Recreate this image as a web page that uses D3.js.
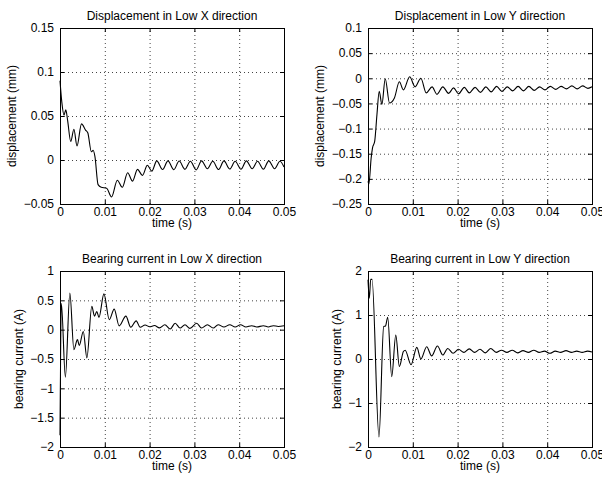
<!DOCTYPE html>
<html>
<head>
<meta charset="utf-8">
<script src="https://cdn.jsdelivr.net/npm/d3@7"></script>
<style>
body { margin: 0; background: #fff; }
svg text { font-family: "Liberation Sans", Arial, Helvetica, sans-serif; font-size: 12px; fill: #000; }
</style>
</head>
<body>
<svg width="602" height="480"></svg>
<script>
'use strict';

// time axis, shared by all four plots
const timeTicks = [0, 0.01, 0.02, 0.03, 0.04, 0.05];
const timeTickLabels = ["0", "0.01", "0.02", "0.03", "0.04", "0.05"];

// Displacement in Low X direction (mm), peaks and troughs
const dispXTime = [0, .0004, .0009, .0013, .0017, .0024, .0031, .0038, .0048, .0057, .0062, .0070, .0074, .0078,
    .0085, .0092, .0104, .0115, .0128, .0139, .0151, .0162, .0173, .0184, .0195, .0205, .0216, .0229,
    .0241, .0254, .0266, .0279, .0291, .0304, .0316, .0329, .0341, .0354, .0366, .0379, .0391, .0404,
    .0416, .0429, .0441, .0454, .0466, .0479, .0491, .0500];
const dispXValues = [.090, .066, .051, .057, .045, .021, .035, .016, .041, .034, .031, .0094, .011, .0038,
    -.028, -.031, -.032, -.042, -.023, -.031, -.0145, -.024, -.0106, -.0175, -.006, -.0126, -.001, -.0108,
    -.001, -.0110, -.0012, -.0105, -.0015, -.0112, -.001, -.0100, -.0015, -.0108, -.001, -.0102, -.0015, -.0105,
    -.001, -.0100, -.0015, -.0105, -.001, -.0100, -.0015, -.008];
const dispXTicks = [-0.05, 0, 0.05, 0.1, 0.15];
const dispXTickLabels = ["\u22120.05", "0", "0.05", "0.1", "0.15"];

// Displacement in Low Y direction (mm)
const dispYTime = [0, .0002, .0007, .0010, .0015, .0020, .0025, .0031, .00385, .0048, .0059, .0070, .0079, .0093,
    .0105, .0118, .0130, .0143, .0154, .0167, .0180, .0191, .0202, .0215, .0226,
    .0239, .0251, .0263, .0275, .0287, .0299, .0311, .0323, .0335, .0347, .0359, .0371, .0383, .0395,
    .0407, .0419, .0431, .0443, .0455, .0467, .0479, .0491, .0500];
const dispYValues = [-.205, -.21, -.159, -.139, -.125, -.072, -.026, -.052, -.001, -.049, -.039, -.007, -.023, .003,
    -.017, 0, -.029, -.017, -.032, -.017, -.030, -.019, -.031, -.018, -.029,
    -.018, -.028, -.017, -.027, -.016, -.026, -.017, -.025, -.016, -.025, -.016, -.024, -.017, -.023,
    -.016, -.022, -.016, -.021, -.015, -.021, -.015, -.020, -.017];
const dispYTicks = [-0.25, -0.2, -0.15, -0.1, -0.05, 0, 0.05, 0.1];
const dispYTickLabels = ["\u22120.25", "\u22120.2", "\u22120.15", "\u22120.1", "\u22120.05", "0", "0.05", "0.1"];

// Bearing current in Low X direction (A)
const curXTime = [0, .0003, .0012, .0022, .0031, .0039, .0043, .0052, .0060, .0071, .0077, .0082, .0087, .0098,
    .0110, .0121, .0132, .0147, .0158, .0170, .0179, .0190, .0200,
    .0211, .0222, .0234, .0246, .0257, .0268, .0279, .0290, .0305, .0316, .0329, .0342, .0353, .0366,
    .0379, .0391, .0403, .0415, .0428, .0439, .0454, .0465, .0476, .0487, .0500];
const curXValues = [-1.8, .45, -.81, .625, -.34, -.17, -.27, -.03, -.48, .40, .23, .31, .21, .61,
    .17, .35, .065, .23, .04, .15, .04, .08, .05,
    .07, .03, .085, .011, .11, .028, .085, .022, .11, .028, .085, .028, .085, .045,
    .085, .045, .085, .045, .068, .045, .068, .045, .068, .055, .068];
const curXTicks = [-2, -1.5, -1, -0.5, 0, 0.5, 1];
const curXTickLabels = ["\u22122", "\u22121.5", "\u22121", "\u22120.5", "0", "0.5", "1"];

// Bearing current in Low Y direction (A)
const curYTime = [0, .0003, .0006, .0009, .00245, .0035, .0039, .0044, .0053, .0062, .0070, .0079, .0083, .0096,
    .0109, .0118, .0131, .0142, .0155, .0167, .0178, .0190, .0202,
    .0214, .0226, .0238, .0250, .0262, .0274, .0286, .0298, .0310, .0322, .0334, .0346, .0358, .0370,
    .0382, .0394, .0406, .0418, .0430, .0442, .0454, .0466, .0478, .0490, .0500];
const curYValues = [1.80, 1.38, 1.81, 1.81, -1.77, .74, .75, .95, -.40, .545, -.17, .17, .20, -.13,
    .265, 0, .28, .07, .295, .09, .24, .13, .22,
    .15, .23, .15, .22, .14, .24, .15, .20, .15, .20, .14, .19, .15, .20,
    .15, .18, .13, .18, .15, .19, .15, .18, .15, .18, .16];
const curYTicks = [-2, -1, 0, 1, 2];
const curYTickLabels = ["\u22122", "\u22121", "0", "1", "2"];

const svg = d3.select("svg");
const plotW = 224, plotH = 176;

const panels = [
    { left: 60, top: 28, title: "Displacement in Low X direction", ylabel: "displacement (mm)",
      time: dispXTime, values: dispXValues, ticks: dispXTicks, labels: dispXTickLabels },
    { left: 368, top: 28, title: "Displacement in Low Y direction", ylabel: "displacement (mm)",
      time: dispYTime, values: dispYValues, ticks: dispYTicks, labels: dispYTickLabels },
    { left: 60, top: 271, title: "Bearing current in Low X direction", ylabel: "bearing current (A)",
      time: curXTime, values: curXValues, ticks: curXTicks, labels: curXTickLabels },
    { left: 368, top: 271, title: "Bearing current in Low Y direction", ylabel: "bearing current (A)",
      time: curYTime, values: curYValues, ticks: curYTicks, labels: curYTickLabels }
];

panels.forEach(drawPanel);

function drawPanel(p) {
    const x = d3.scaleLinear().domain([0, 0.05]).range([0, plotW]);
    const y = d3.scaleLinear().domain(d3.extent(p.ticks)).range([plotH, 0]);

    const g = svg.append("g").attr("transform", `translate(${p.left},${p.top})`);

    // dotted grid
    const grid = g.append("g").attr("class", "grid");
    grid.append("g")
        .attr("transform", `translate(0,${plotH})`)
        .call(d3.axisBottom(x).tickValues(timeTicks.slice(1, -1)).tickSize(-plotH).tickFormat(""));
    grid.append("g")
        .call(d3.axisLeft(y).tickValues(p.ticks.slice(1, -1)).tickSize(-plotW).tickFormat(""));
    grid.selectAll(".domain").remove();
    grid.selectAll(".tick line")
        .attr("stroke", "#444")
        .attr("stroke-dasharray", "1,3");

    // data line
    const line = d3.line()
        .x((d, i) => x(p.time[i]))
        .y(d => y(d))
        .curve(d3.curveMonotoneX);
    g.append("path")
        .datum(p.values)
        .attr("fill", "none")
        .attr("stroke", "#000")
        .attr("stroke-width", 1.1)
        .attr("d", line);

    // axes with inward ticks on all four sides
    const fmtX = d => timeTickLabels[timeTicks.indexOf(d)];
    const fmtY = d => p.labels[p.ticks.indexOf(d)];
    const axes = [
        g.append("g").attr("transform", `translate(0,${plotH})`)
            .call(d3.axisBottom(x).tickValues(timeTicks).tickSize(-4).tickPadding(3).tickFormat(fmtX)),
        g.append("g").call(d3.axisTop(x).tickValues(timeTicks).tickSize(-4).tickFormat("")),
        g.append("g").call(d3.axisLeft(y).tickValues(p.ticks).tickSize(-4).tickPadding(6).tickFormat(fmtY)),
        g.append("g").attr("transform", `translate(${plotW},0)`)
            .call(d3.axisRight(y).tickValues(p.ticks).tickSize(-4).tickFormat(""))
    ];
    axes.forEach(a => {
        a.attr("font-size", null).attr("font-family", null);
        a.selectAll(".domain").remove();
        a.selectAll(".tick line").attr("stroke", "#000");
    });

    g.append("rect")
        .attr("x", 0.5).attr("y", 0.5)
        .attr("width", plotW).attr("height", plotH)
        .attr("fill", "none")
        .attr("stroke", "#000");

    // labels
    g.append("text")
        .attr("x", plotW / 2).attr("y", -8)
        .attr("text-anchor", "middle")
        .text(p.title);
    g.append("text")
        .attr("x", plotW / 2).attr("y", plotH + 23)
        .attr("text-anchor", "middle")
        .text("time (s)");

    const maxW = d3.max(axes[2].selectAll("text").nodes(), n => n.getBBox().width);
    g.append("text")
        .attr("transform", `translate(${-maxW - 13},${plotH / 2}) rotate(-90)`)
        .attr("text-anchor", "middle")
        .text(p.ylabel);
}
</script>
</body>
</html>
